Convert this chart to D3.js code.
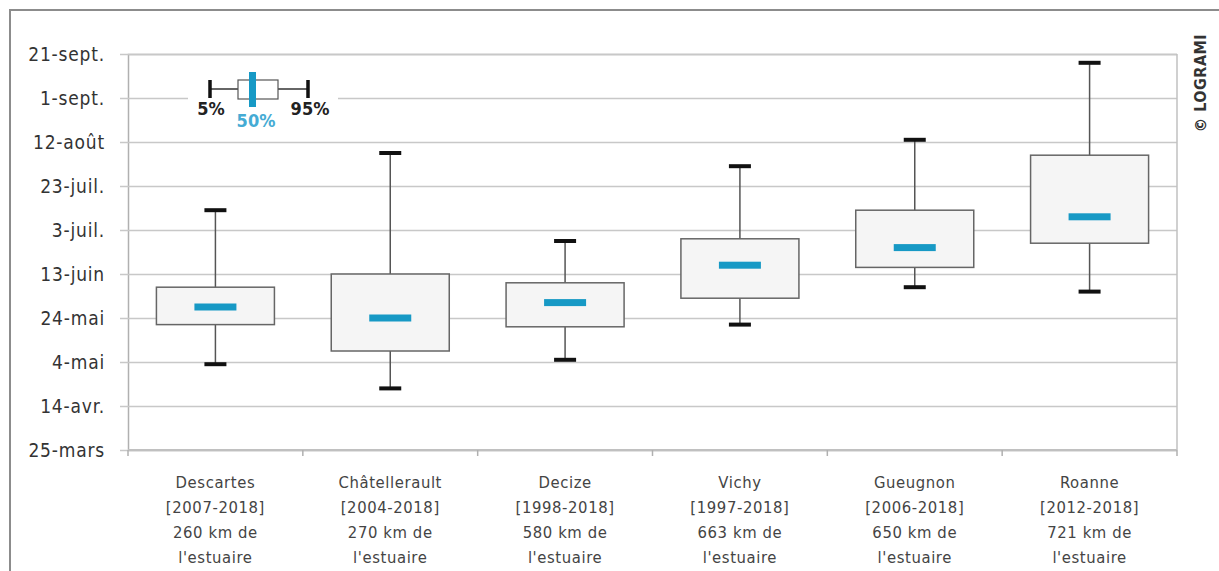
<!DOCTYPE html>
<html>
<head>
<meta charset="utf-8">
<script src="https://cdn.jsdelivr.net/npm/d3@7"></script>
<style>
  html, body { margin: 0; padding: 0; background: #fff; }
  svg { display: block; }
</style>
</head>
<body>
<div id="chart"></div>
<script>
// stations and their labels (4 lines each)
const stations = ["Descartes", "Châtellerault", "Decize", "Vichy", "Gueugnon", "Roanne"];
const periods = ["[2007-2018]", "[2004-2018]", "[1998-2018]", "[1997-2018]", "[2006-2018]", "[2012-2018]"];
const distances = ["260 km de", "270 km de", "580 km de", "663 km de", "650 km de", "721 km de"];

// percentiles (dates, 2018)
const p5  = ["2018-05-03", "2018-04-22", "2018-05-05", "2018-05-21", "2018-06-07", "2018-06-05"];
const q1  = ["2018-05-21", "2018-05-09", "2018-05-20", "2018-06-02", "2018-06-16", "2018-06-27"];
const med = ["2018-05-29", "2018-05-24", "2018-05-31", "2018-06-17", "2018-06-25", "2018-07-09"];
const q3  = ["2018-06-07", "2018-06-13", "2018-06-09", "2018-06-29", "2018-07-12", "2018-08-06"];
const p95 = ["2018-07-12", "2018-08-07", "2018-06-28", "2018-08-01", "2018-08-13", "2018-09-17"];

const tickDates = ["2018-03-25", "2018-04-14", "2018-05-04", "2018-05-24", "2018-06-13",
                   "2018-07-03", "2018-07-23", "2018-08-12", "2018-09-01", "2018-09-21"];
const tickLabels = ["25-mars", "14-avr.", "4-mai", "24-mai", "13-juin",
                    "3-juil.", "23-juil.", "12-août", "1-sept.", "21-sept."];

const parse = d3.utcParse("%Y-%m-%d");
const data = stations.map((s, i) => ({
  name: s, period: periods[i], dist: distances[i],
  p5: parse(p5[i]), q1: parse(q1[i]), med: parse(med[i]), q3: parse(q3[i]), p95: parse(p95[i])
}));

const W = 1219, H = 571;
const plot = { left: 128, right: 1177, top: 54, bottom: 450 };
const font = "'DejaVu Sans Condensed', 'Roboto', sans-serif";
const teal = "#1799c5";

const svg = d3.select("#chart").append("svg")
  .attr("width", W).attr("height", H)
  .style("font-family", font);

// outer frame
svg.append("path")
  .attr("d", `M10,${H} L10,10 L${W},10`)
  .attr("fill", "none").attr("stroke", "#8c8c8c").attr("stroke-width", 2);

const y = d3.scaleUtc()
  .domain([parse(tickDates[0]), parse(tickDates[tickDates.length - 1])])
  .range([plot.bottom, plot.top]);

const x = d3.scaleBand()
  .domain(stations)
  .range([plot.left, plot.right])
  .padding(0);

// y axis with gridlines
const yAxis = d3.axisLeft(y)
  .tickValues(tickDates.map(parse))
  .tickFormat((d, i) => tickLabels[i])
  .tickSize(-(plot.right - plot.left))
  .tickPadding(23);

const gy = svg.append("g")
  .attr("transform", `translate(${plot.left},0)`)
  .call(yAxis);
gy.select(".domain").attr("stroke", "#b0b0b0").attr("stroke-width", 1.5);
gy.selectAll(".tick line").attr("stroke", "#c8c8c8").attr("stroke-width", 1.5).attr("x1", -8);
gy.selectAll(".tick text")
  .attr("fill", "#333").style("font-size", "19px").style("letter-spacing", "0.8px")
  .style("font-family", font);

// right border of the plot
svg.append("line")
  .attr("x1", plot.right).attr("x2", plot.right)
  .attr("y1", plot.top).attr("y2", plot.bottom)
  .attr("stroke", "#c0c0c0").attr("stroke-width", 1.5);

// x axis: ticks at band boundaries
const gx = svg.append("g").attr("transform", `translate(0,${plot.bottom})`);
gx.append("line")
  .attr("x1", plot.left).attr("x2", plot.right)
  .attr("stroke", "#c0c0c0").attr("stroke-width", 2);
gx.selectAll(".bt")
  .data(stations.concat(["end"]))
  .join("line")
  .attr("x1", (d, i) => plot.left + i * x.bandwidth())
  .attr("x2", (d, i) => plot.left + i * x.bandwidth())
  .attr("y1", 0).attr("y2", 6)
  .attr("stroke", "#b0b0b0").attr("stroke-width", 1.5);

const labelLines = d => [d.name, d.period, d.dist, "l'estuaire"];
gx.selectAll(".lab")
  .data(data)
  .join("text")
  .attr("text-anchor", "middle")
  .attr("fill", "#444")
  .style("font-size", "16.5px")
  .style("letter-spacing", "0.6px")
  .each(function (d) {
    const t = d3.select(this);
    labelLines(d).forEach((ln, k) => {
      t.append("tspan")
        .attr("x", x(d.name) + x.bandwidth() / 2)
        .attr("y", 38 + k * 25)
        .text(ln);
    });
  });

// box plots
const boxW = x.bandwidth() * 0.675;
const capW = 22;
const medW = 42;
const g = svg.append("g");
const box = g.selectAll(".box").data(data).join("g")
  .attr("transform", d => `translate(${x(d.name) + x.bandwidth() / 2},0)`);

box.append("line")
  .attr("y1", d => y(d.p95)).attr("y2", d => y(d.p5))
  .attr("stroke", "#555").attr("stroke-width", 1.5);
box.append("rect")
  .attr("x", -boxW / 2).attr("width", boxW)
  .attr("y", d => y(d.q3)).attr("height", d => y(d.q1) - y(d.q3))
  .attr("fill", "#f5f5f5").attr("stroke", "#666").attr("stroke-width", 1.5);
box.selectAll(".cap").data(d => [d.p5, d.p95]).join("line")
  .attr("x1", -capW / 2).attr("x2", capW / 2)
  .attr("y1", v => y(v)).attr("y2", v => y(v))
  .attr("stroke", "#111").attr("stroke-width", 4);
box.append("rect")
  .attr("x", -medW / 2).attr("width", medW)
  .attr("y", d => y(d.med) - 3.5).attr("height", 7)
  .attr("fill", teal);

// legend
const lg = svg.append("g");
lg.append("rect").attr("x", 188).attr("y", 66).attr("width", 150).attr("height", 64).attr("fill", "#fff");
lg.append("line").attr("x1", 210).attr("x2", 308).attr("y1", 89).attr("y2", 89)
  .attr("stroke", "#333").attr("stroke-width", 1.5);
[210, 308].forEach(cx => lg.append("line")
  .attr("x1", cx).attr("x2", cx).attr("y1", 80).attr("y2", 98)
  .attr("stroke", "#111").attr("stroke-width", 3.5));
lg.append("rect").attr("x", 238).attr("y", 80).attr("width", 40).attr("height", 19)
  .attr("fill", "#fff").attr("stroke", "#555").attr("stroke-width", 1.2);
lg.append("rect").attr("x", 249).attr("y", 72).attr("width", 7).attr("height", 35).attr("fill", teal);
lg.append("text").attr("x", 211).attr("y", 115).attr("text-anchor", "middle")
  .attr("fill", "#222").style("font-size", "18px").style("font-weight", "bold").text("5%");
lg.append("text").attr("x", 310).attr("y", 115).attr("text-anchor", "middle")
  .attr("fill", "#222").style("font-size", "18px").style("font-weight", "bold").text("95%");
lg.append("text").attr("x", 256).attr("y", 127).attr("text-anchor", "middle")
  .attr("fill", "#45abd4").style("font-size", "18px").style("font-weight", "bold").text("50%");

// copyright
svg.append("text")
  .attr("transform", "translate(1206,83) rotate(-90)")
  .attr("text-anchor", "middle")
  .attr("fill", "#333")
  .style("font-size", "16px").style("font-weight", "bold")
  .style("letter-spacing", "0.5px")
  .text("© LOGRAMI");
</script>
</body>
</html>
